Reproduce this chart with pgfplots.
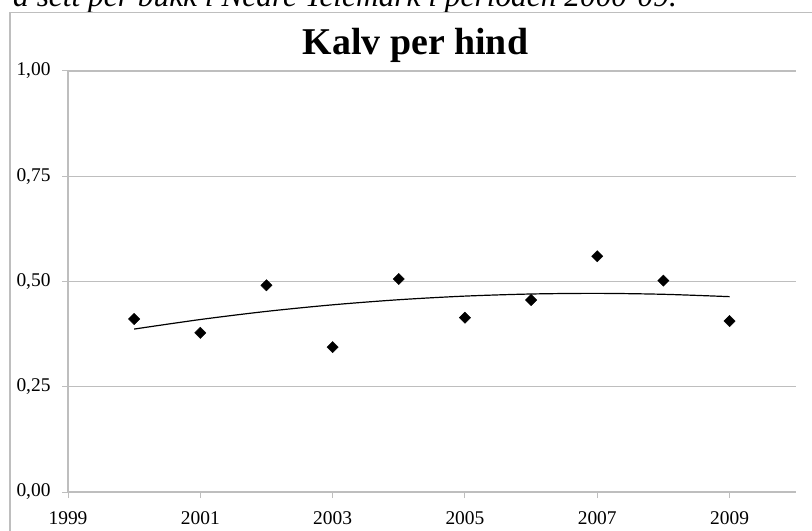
\documentclass[border=0pt]{standalone}
\usepackage{fontspec}
\setmainfont{Liberation Serif}
\usepackage{pgfplots}
\pgfplotsset{compat=1.18}
\definecolor{gridgray}{RGB}{190,190,190}
\begin{document}
\begin{tikzpicture}
\useasboundingbox (0bp,0bp) rectangle (812bp,531bp);
\clip (0bp,0bp) rectangle (812bp,531bp);
\node[anchor=base east, font=\fontsize{31.5}{36}\selectfont\itshape, inner sep=0pt] at (677bp,524bp) {a sett per bukk i Nedre Telemark i perioden 2000-09.};
\draw[gridgray, line width=1.3bp] (10bp,-20bp) rectangle (840bp,518.3bp);
\begin{axis}[
  at={(68bp,39bp)}, anchor=south west,
  scale only axis, width=727.7bp, height=421bp,
  xmin=1999, xmax=2010, ymin=0, ymax=1,
  axis x line*=bottom, axis y line*=left,
  axis line style={-, gridgray, line width=1.3bp},
  xtick={1999,2001,2003,2005,2007,2009},
  xticklabels={1999,2001,2003,2005,2007,2009},
  ytick={0,0.25,0.5,0.75,1},
  yticklabels={{0,00},{0,25},{0,50},{0,75},{1,00}},
  /pgf/number format/assume math mode=true,
  tick align=outside,
  major tick length=6bp,
  tick style={gridgray, line width=1bp},
  ymajorgrids, grid style={gridgray, line width=1.3bp},
  ticklabel style={font=\fontsize{19.5}{22}\selectfont},
  xticklabel style={yshift=-10.5bp},
  yticklabel style={xshift=-8bp},
  clip=false,
]
\addplot[black, line width=1.2bp, smooth] coordinates {
 (2000,0.3870) (2001,0.4097) (2002,0.4290) (2003,0.4446) (2004,0.4567)
 (2005,0.4653) (2006,0.4703) (2007,0.4718) (2008,0.4696) (2009,0.4640)
};
\addplot[only marks, mark=square*, mark size=4bp, mark options={rotate=45, fill=black, draw=black}] coordinates {
 (2000,0.411) (2001,0.378) (2002,0.491) (2003,0.344) (2004,0.506)
 (2005,0.414) (2006,0.456) (2007,0.560) (2008,0.502) (2009,0.406)
};
\end{axis}
\node[anchor=base, font=\fontsize{38}{44}\selectfont\bfseries, inner sep=0pt] at (415.5bp,476bp) {Kalv per hind};
\end{tikzpicture}
\end{document}
